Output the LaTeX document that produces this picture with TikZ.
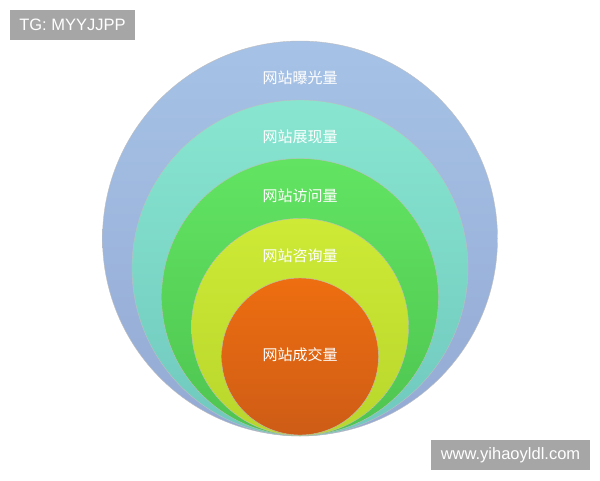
\documentclass[tikz,border=0pt]{standalone}
\usepackage{fontspec}
\setmainfont{Liberation Sans}
\newfontfamily\cjk{Noto Sans CJK SC}
\definecolor{exposeTop}{RGB}{166,194,230}
\definecolor{exposeBot}{RGB}{148,170,212}
\definecolor{showTop}{RGB}{136,230,208}
\definecolor{showBot}{RGB}{112,200,190}
\definecolor{visitTop}{RGB}{98,228,98}
\definecolor{visitBot}{RGB}{78,196,80}
\definecolor{askTop}{RGB}{206,234,54}
\definecolor{askBot}{RGB}{184,214,44}
\definecolor{dealTop}{RGB}{238,110,16}
\definecolor{dealBot}{RGB}{206,92,22}
\definecolor{tagGrey}{RGB}{166,166,166}
\tikzset{
  ring/.style={draw=black!25, line width=0.4pt},
  lbl/.style={text=white, font=\cjk\fontsize{15}{15}\selectfont, inner sep=0pt},
  tag/.style={fill=tagGrey, text=white, font=\fontsize{16.5}{16.5}\selectfont,
    minimum height=30pt, inner sep=0pt}
}
\begin{document}
\begin{tikzpicture}[x=1pt,y=-1pt]
\useasboundingbox (0,0) rectangle (600,480);
% nested circles, all touching at the bottom
\draw[ring, top color=exposeTop, bottom color=exposeBot] (300,238.5) circle (197.5pt);
\draw[ring, top color=showTop, bottom color=showBot] (300,268) circle (168pt);
\draw[ring, top color=visitTop, bottom color=visitBot] (300,297) circle (138.5pt);
\draw[ring, top color=askTop, bottom color=askBot] (300,327) circle (108.5pt);
\draw[ring, top color=dealTop, bottom color=dealBot] (300,356.5) circle (78.5pt);
% labels
\node[lbl] (expose) at (300,78) {网站曝光量};
\node[lbl] (show) at (300,137) {网站展现量};
\node[lbl] (visit) at (300,196) {网站访问量};
\node[lbl] (ask) at (300,256) {网站咨询量};
\node[lbl] (deal) at (300,355) {网站成交量};
% corner tags
\node[tag, minimum width=125pt] (tg) at (72.5,25) {TG: MYYJJPP};
\node[tag, minimum width=159pt] (site) at (510.5,455) {www.yihaoyldl.com};
\end{tikzpicture}
\end{document}
